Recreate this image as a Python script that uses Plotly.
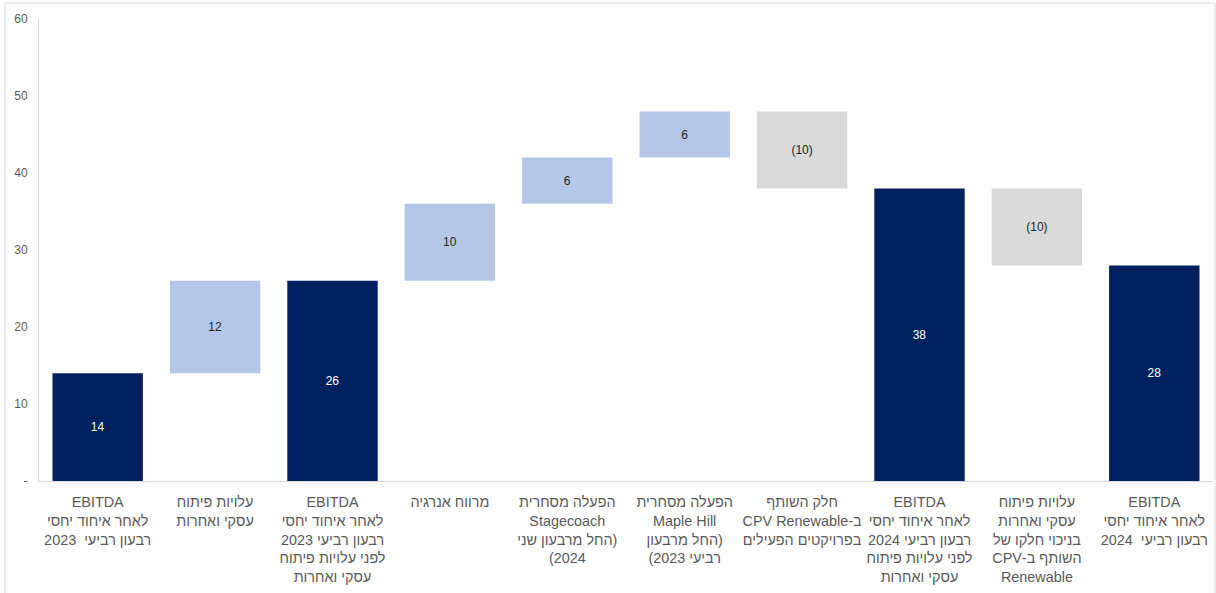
import plotly.graph_objects as go

RLE, PDF = "\u202b", "\u202c"

# ---- data ----
label_lines = [
    ["EBITDA", "לאחר איחוד יחסי", "רבעון רביעי  2023"],
    ["עלויות פיתוח", "עסקי ואחרות"],
    ["EBITDA", "לאחר איחוד יחסי", "רבעון רביעי 2023", "לפני עלויות פיתוח", "עסקי ואחרות"],
    ["מרווח אנרגיה"],
    ["הפעלה מסחרית", "Stagecoach", "(החל מרבעון שני", "2024)"],
    ["הפעלה מסחרית", "Maple Hill", "(החל מרבעון", "רביעי 2023)"],
    ["חלק השותף", "ב-CPV Renewable", "בפרויקטים הפעילים"],
    ["EBITDA", "לאחר איחוד יחסי", "רבעון רביעי 2024", "לפני עלויות פיתוח", "עסקי ואחרות"],
    ["עלויות פיתוח", "עסקי ואחרות", "בניכוי חלקו של", "השותף ב-CPV", "Renewable"],
    ["EBITDA", "לאחר איחוד יחסי", "רבעון רביעי  2024"],
]
measures = ["absolute", "relative", "total", "relative", "relative", "relative",
            "relative", "total", "relative", "total"]
values = [14, 12, 0, 10, 6, 6, -10, 0, -10, 0]

y_tickvals = [0, 10, 20, 30, 40, 50, 60]
y_ticktext = ["-", "10", "20", "30", "40", "50", "60"]

# ---- derived ----
categories = ["<br>".join(RLE + ln + PDF for ln in lines) for lines in label_lines]
texts, colors_txt = [], []
running = 0
for m, v in zip(measures, values):
    if m == "absolute":
        running = v
        shown = v
    elif m == "total":
        shown = running
    else:
        running += v
        shown = v
    texts.append(f"({abs(shown)})" if shown < 0 else str(shown))
    colors_txt.append("#FFFFFF" if m in ("absolute", "total") else "#262626")

fig = go.Figure(go.Waterfall(
    x=categories,
    y=values,
    measure=measures,
    text=texts,
    textposition="inside",
    insidetextanchor="middle",
    textfont=dict(size=12, color=colors_txt, family="Liberation Sans, Arial, sans-serif"),
    constraintext="none",
    connector=dict(visible=False),
    increasing=dict(marker=dict(color="#B4C7E7")),
    decreasing=dict(marker=dict(color="#D9D9D9")),
    totals=dict(marker=dict(color="#002060")),
    hoverinfo="skip",
))

L, R, T, B = 39, 3, 19, 112
W, H = 1216, 593
pw, ph = W - L - R, H - T - B

fig.update_layout(
    width=W, height=H,
    margin=dict(l=L, r=R, t=T, b=B),
    paper_bgcolor="white", plot_bgcolor="white",
    showlegend=False,
    waterfallgap=0.23,
    font=dict(family="Liberation Sans, Arial, sans-serif", color="#595959"),
    xaxis=dict(
        showline=True, linecolor="#D9D9D9", linewidth=1,
        showgrid=False, ticks="", tickangle=0,
        tickfont=dict(size=14.4, color="#595959"), ticklabelstandoff=8,
    ),
    yaxis=dict(
        range=[0, 60], tickvals=y_tickvals, ticktext=y_ticktext,
        showline=True, linecolor="#D9D9D9", linewidth=1,
        showgrid=False, zeroline=False, ticks="",
        tickfont=dict(size=12, color="#595959"), ticklabelstandoff=8,
    ),
    shapes=[dict(
        type="rect", xref="paper", yref="paper",
        x0=(5 - L) / pw, x1=(1215 - L) / pw,
        y0=-0.4, y1=(H - B - 3) / ph,
        line=dict(color="#D9D9D9", width=1), layer="below",
    )],
)

fig.write_html(
    "out.html",
    config={"displayModeBar": False},
    post_script="document.body.style.margin='0';document.body.style.overflow='hidden';",
)
